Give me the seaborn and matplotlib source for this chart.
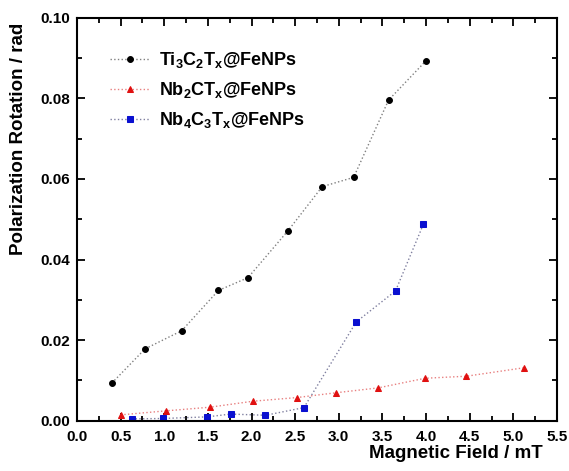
import matplotlib
matplotlib.use("Agg")
import matplotlib.pyplot as plt
import seaborn as sns
import pandas as pd
from matplotlib.ticker import MultipleLocator

sns.set_style("ticks")
plt.rcParams['font.family'] = ['Liberation Sans', 'DejaVu Sans']
plt.rcParams['font.weight'] = 'bold'
plt.rcParams['mathtext.fontset'] = 'custom'
plt.rcParams['mathtext.rm'] = 'Liberation Sans:bold'
plt.rcParams['mathtext.bf'] = 'Liberation Sans:bold'
plt.rcParams['mathtext.default'] = 'bf'
for k in ['text.color', 'axes.labelcolor', 'xtick.color', 'ytick.color']:
    plt.rcParams[k] = 'black'

# data
ti_x = [0.40, 0.78, 1.20, 1.62, 1.96, 2.42, 2.81, 3.17, 3.57, 4.00]
ti_y = [0.0093, 0.0178, 0.0223, 0.0323, 0.0355, 0.0472, 0.0581, 0.0604, 0.0796, 0.0894]
nb2_x = [0.50, 1.02, 1.52, 2.02, 2.52, 2.97, 3.45, 3.99, 4.46, 5.12]
nb2_y = [0.0014, 0.0024, 0.0033, 0.0048, 0.0057, 0.0069, 0.0081, 0.0105, 0.0110, 0.0131]
nb4_x = [0.63, 0.98, 1.49, 1.76, 2.16, 2.60, 3.20, 3.65, 3.97]
nb4_y = [0.0004, 0.0005, 0.0009, 0.0016, 0.0013, 0.0032, 0.0245, 0.0322, 0.0488]
labels = [r'Ti$_3$C$_2$T$_x$@FeNPs', r'Nb$_2$CT$_x$@FeNPs', r'Nb$_4$C$_3$T$_x$@FeNPs']

fig = plt.figure(figsize=(5.69, 4.71), dpi=100)
ax = fig.add_axes([0.1353, 0.1072, 0.8436, 0.8546])

series = [
    (ti_x, ti_y, labels[0], 'black', '#808080', 'o', 4.2),
    (nb2_x, nb2_y, labels[1], '#e01010', '#e88080', '^', 4.5),
    (nb4_x, nb4_y, labels[2], '#0a10d0', '#8080a0', 's', 3.8),
]
for xs, ys, lab, mc, lc, mk, ms in series:
    df = pd.DataFrame({'x': xs, 'y': ys})
    sns.lineplot(data=df, x='x', y='y', ax=ax, sort=False, color=lc,
                 linestyle=':', linewidth=1.0, marker=mk, markersize=ms,
                 markerfacecolor=mc, markeredgecolor=mc, label=lab)

ax.set_xlim(0, 5.5)
ax.set_ylim(0, 0.10)
ax.xaxis.set_major_locator(MultipleLocator(0.5))
ax.xaxis.set_minor_locator(MultipleLocator(0.25))
ax.yaxis.set_major_locator(MultipleLocator(0.02))
ax.yaxis.set_minor_locator(MultipleLocator(0.01))
ax.xaxis.set_major_formatter(matplotlib.ticker.FormatStrFormatter('%.1f'))
ax.yaxis.set_major_formatter(matplotlib.ticker.FormatStrFormatter('%.2f'))
ax.tick_params(which='both', direction='in', top=True, right=True, width=1.3, color='black')
ax.tick_params(which='major', length=6, labelsize=11, pad=5)
ax.tick_params(axis='x', which='major', pad=7)
ax.tick_params(which='minor', length=3.5)
for lab in ax.get_xticklabels() + ax.get_yticklabels():
    lab.set_fontweight('bold')
for s in ax.spines.values():
    s.set_linewidth(1.5)
    s.set_color('black')

ax.set_xlabel('Magnetic Field / mT', fontsize=13.5, fontweight='bold')
ax.set_ylabel('Polarization Rotation / rad', fontsize=13.5, fontweight='bold')
ax.xaxis.set_label_coords(0.79, -0.06)
ax.yaxis.set_label_coords(-0.105, 0.70)

leg = ax.legend(loc='upper left', bbox_to_anchor=(0.035, 0.96), frameon=False,
                fontsize=13, handlelength=2.2, labelspacing=0.55, handletextpad=0.5)
for t in leg.get_texts():
    t.set_fontweight('bold')

fig.savefig('out.png', dpi=100)
